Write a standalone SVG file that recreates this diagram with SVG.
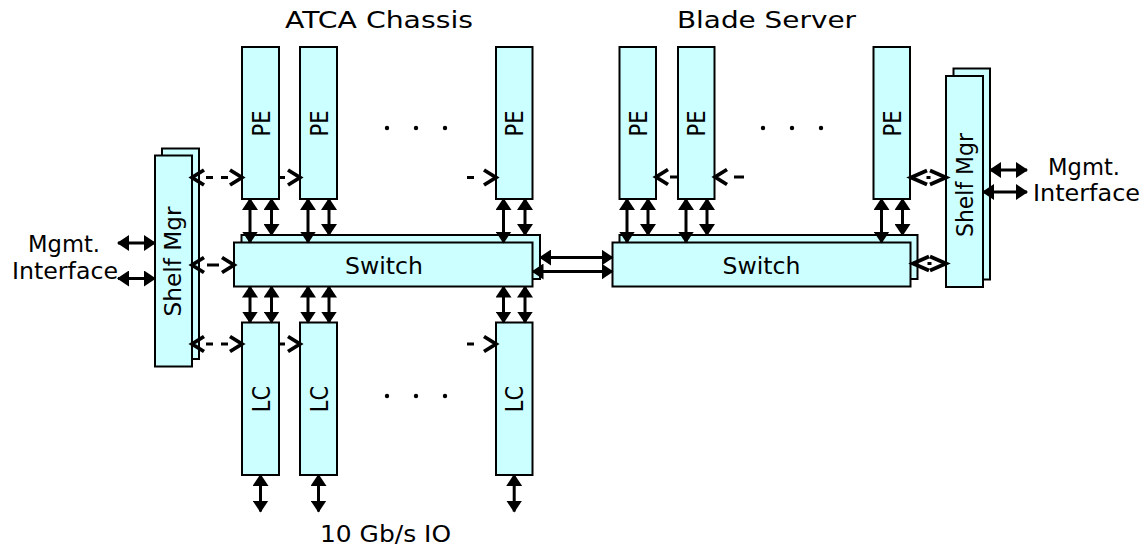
<svg xmlns="http://www.w3.org/2000/svg" width="1146" height="548" viewBox="0 0 1146 548">
<style>
.box{fill:#CCFFFF;stroke:#000;stroke-width:2}
.t{font-family:"DejaVu Sans","Liberation Sans",sans-serif;font-size:23px;fill:#000}
.r{font-family:"DejaVu Sans","Liberation Sans",sans-serif;font-size:21px;fill:#000;text-anchor:middle;dominant-baseline:central}
.a{stroke:#000;stroke-width:3;fill:none}
.d{stroke:#000;stroke-width:3;fill:none}
.dot{fill:#000}
</style>
<defs>
<marker id="ah" viewBox="0 0 12 16" refX="11" refY="8" markerWidth="12" markerHeight="16" markerUnits="userSpaceOnUse" orient="auto-start-reverse"><path d="M0,0 L12,8 L0,16 Z" fill="#000"/></marker>
<marker id="ch" viewBox="-3 -3 19 21" refX="12" refY="7.5" markerWidth="19" markerHeight="21" markerUnits="userSpaceOnUse" orient="auto-start-reverse" overflow="visible"><path d="M0,0 L12,7.5 L0,15" fill="none" stroke="#000" stroke-width="3.8"/></marker>
<marker id="cb" viewBox="-3 -3 22 20" refX="16" refY="7" markerWidth="22" markerHeight="20" markerUnits="userSpaceOnUse" orient="auto-start-reverse" overflow="visible"><path d="M0,0 L16,7 L0,14" fill="none" stroke="#000" stroke-width="3.8"/></marker>
</defs>

<text class="t" x="285" y="28" font-size="24" textLength="188" lengthAdjust="spacingAndGlyphs">ATCA Chassis</text>
<text class="t" x="677" y="28" font-size="24" textLength="179" lengthAdjust="spacingAndGlyphs">Blade Server</text>

<g id="shelf-left">
<rect class="box" x="162" y="148.5" width="37" height="210.5"/>
<rect class="box" x="155" y="155.5" width="37" height="211"/>
<text class="r" transform="translate(173.5,261.5) scale(1.1,1) rotate(-90)" font-size="23" textLength="110" lengthAdjust="spacingAndGlyphs">Shelf Mgr</text>
</g>
<g id="shelf-right">
<rect class="box" x="953.5" y="68.5" width="36.5" height="211"/>
<rect class="box" x="946" y="76" width="37" height="211"/>
<text class="r" transform="translate(965,185) scale(1.1,1) rotate(-90)" font-size="23" textLength="104" lengthAdjust="spacingAndGlyphs">Shelf Mgr</text>
</g>

<g id="switch-left">
<rect class="box" x="241.5" y="235" width="298.5" height="44"/>
<rect class="box" x="234" y="242.5" width="298.5" height="44"/>
<text class="t" x="384" y="274" text-anchor="middle" font-size="24" textLength="78" lengthAdjust="spacingAndGlyphs">Switch</text>
</g>
<g id="switch-right">
<rect class="box" x="619.5" y="235" width="298" height="44"/>
<rect class="box" x="612.5" y="242.5" width="298" height="44"/>
<text class="t" x="761.5" y="274" text-anchor="middle" font-size="24" textLength="78" lengthAdjust="spacingAndGlyphs">Switch</text>
</g>

<g id="pe1"><rect class="box" x="242" y="47" width="37" height="152"/><text class="r" transform="translate(260.5,123.5) scale(1.2,1) rotate(-90)">PE</text></g>
<g id="pe2"><rect class="box" x="300" y="47" width="37" height="152"/><text class="r" transform="translate(318.5,123.5) scale(1.2,1) rotate(-90)">PE</text></g>
<g id="pe3"><rect class="box" x="496" y="47" width="36.5" height="152"/><text class="r" transform="translate(514.2,123.5) scale(1.2,1) rotate(-90)">PE</text></g>
<g id="pe4"><rect class="box" x="619.5" y="47" width="36.5" height="152"/><text class="r" transform="translate(637.7,123.5) scale(1.2,1) rotate(-90)">PE</text></g>
<g id="pe5"><rect class="box" x="678" y="47" width="36.5" height="152"/><text class="r" transform="translate(696.2,123.5) scale(1.2,1) rotate(-90)">PE</text></g>
<g id="pe6"><rect class="box" x="873.5" y="47" width="36.5" height="152"/><text class="r" transform="translate(891.7,123.5) scale(1.2,1) rotate(-90)">PE</text></g>

<g id="lc1"><rect class="box" x="242" y="322.5" width="37" height="152.5"/><text class="r" transform="translate(260.5,399) scale(1.2,1) rotate(-90)">LC</text></g>
<g id="lc2"><rect class="box" x="300" y="322.5" width="37" height="152.5"/><text class="r" transform="translate(318.5,399) scale(1.2,1) rotate(-90)">LC</text></g>
<g id="lc3"><rect class="box" x="496" y="322.5" width="36.5" height="152.5"/><text class="r" transform="translate(514.2,399) scale(1.2,1) rotate(-90)">LC</text></g>

<g id="ellipses">
<circle class="dot" cx="387" cy="128" r="2.2"/><circle class="dot" cx="416" cy="128" r="2.2"/><circle class="dot" cx="445" cy="128" r="2.2"/>
<circle class="dot" cx="763" cy="128" r="2.2"/><circle class="dot" cx="792" cy="128" r="2.2"/><circle class="dot" cx="821" cy="128" r="2.2"/>
<circle class="dot" cx="387" cy="396" r="2.2"/><circle class="dot" cx="416" cy="396" r="2.2"/><circle class="dot" cx="445" cy="396" r="2.2"/>
</g>

<g id="labels">
<text class="t" x="28" y="252" textLength="72" lengthAdjust="spacingAndGlyphs">Mgmt.</text>
<text class="t" x="12" y="279" textLength="106" lengthAdjust="spacingAndGlyphs">Interface</text>
<text class="t" x="1048" y="175" textLength="72" lengthAdjust="spacingAndGlyphs">Mgmt.</text>
<text class="t" x="1033" y="201" textLength="107" lengthAdjust="spacingAndGlyphs">Interface</text>
<text class="t" x="320" y="541.5" textLength="131" lengthAdjust="spacingAndGlyphs">10 Gb/s IO</text>
</g>

<g id="connectors" marker-start="url(#ah)" marker-end="url(#ah)">
<line class="a" x1="250" y1="199" x2="250" y2="242.5"/>
<line class="a" x1="271.5" y1="199" x2="271.5" y2="235"/>
<line class="a" x1="308" y1="199" x2="308" y2="242.5"/>
<line class="a" x1="329" y1="199" x2="329" y2="235"/>
<line class="a" x1="503.5" y1="199" x2="503.5" y2="242.5"/>
<line class="a" x1="525" y1="199" x2="525" y2="235"/>
<line class="a" x1="627" y1="199" x2="627" y2="242.5"/>
<line class="a" x1="648" y1="199" x2="648" y2="235"/>
<line class="a" x1="686" y1="199" x2="686" y2="242.5"/>
<line class="a" x1="707" y1="199" x2="707" y2="235"/>
<line class="a" x1="881.5" y1="199" x2="881.5" y2="242.5"/>
<line class="a" x1="902.5" y1="199" x2="902.5" y2="235"/>
<line class="a" x1="250" y1="286.5" x2="250" y2="322.5"/>
<line class="a" x1="271.5" y1="286.5" x2="271.5" y2="322.5"/>
<line class="a" x1="308" y1="286.5" x2="308" y2="322.5"/>
<line class="a" x1="329" y1="286.5" x2="329" y2="322.5"/>
<line class="a" x1="503.5" y1="286.5" x2="503.5" y2="322.5"/>
<line class="a" x1="525" y1="286.5" x2="525" y2="322.5"/>
<line class="a" x1="260.5" y1="475" x2="260.5" y2="511.5"/>
<line class="a" x1="318.5" y1="475" x2="318.5" y2="511.5"/>
<line class="a" x1="514.2" y1="475" x2="514.2" y2="511.5"/>
<line class="a" x1="540" y1="257.5" x2="612.5" y2="257.5"/>
<line class="a" x1="532.5" y1="271.5" x2="612.5" y2="271.5"/>
<line class="a" x1="118" y1="243" x2="155" y2="243"/>
<line class="a" x1="118" y1="278.5" x2="155" y2="278.5"/>
<line class="a" x1="990" y1="170" x2="1027" y2="170"/>
<line class="a" x1="983" y1="192" x2="1027" y2="192"/>
<line class="d" x1="192" y1="177.5" x2="242" y2="177.5" stroke-dasharray="0 14 7 8 7 14" marker-start="url(#ch)" marker-end="url(#ch)"/>
<line class="d" x1="279" y1="177.5" x2="300" y2="177.5" stroke-dasharray="6 15" marker-start="none" marker-end="url(#ch)"/>
<line class="d" x1="467" y1="177.5" x2="496" y2="177.5" stroke-dasharray="7 22" marker-start="none" marker-end="url(#ch)"/>
<line class="d" x1="192" y1="265" x2="234" y2="265" stroke-dasharray="0 15 12 15" marker-start="url(#ch)" marker-end="url(#ch)"/>
<line class="d" x1="192" y1="344" x2="242" y2="344" stroke-dasharray="0 14 7 8 7 14" marker-start="url(#ch)" marker-end="url(#ch)"/>
<line class="d" x1="279" y1="344" x2="300" y2="344" stroke-dasharray="6 15" marker-start="none" marker-end="url(#ch)"/>
<line class="d" x1="467" y1="344" x2="496" y2="344" stroke-dasharray="7 22" marker-start="none" marker-end="url(#ch)"/>
<line class="d" x1="678" y1="177" x2="656" y2="177" stroke-dasharray="8 14" marker-start="none" marker-end="url(#ch)"/>
<line class="d" x1="744" y1="177" x2="715" y2="177" stroke-dasharray="10 19" marker-start="none" marker-end="url(#ch)"/>
<line class="d" x1="911" y1="177.5" x2="946" y2="177.5" stroke-dasharray="0 15.5 4 15.5" marker-start="url(#cb)" marker-end="url(#cb)"/>
<line class="d" x1="913" y1="263.5" x2="946" y2="263.5" stroke-dasharray="0 14.5 4 14.5" marker-start="url(#cb)" marker-end="url(#cb)"/>
</g>
</svg>
